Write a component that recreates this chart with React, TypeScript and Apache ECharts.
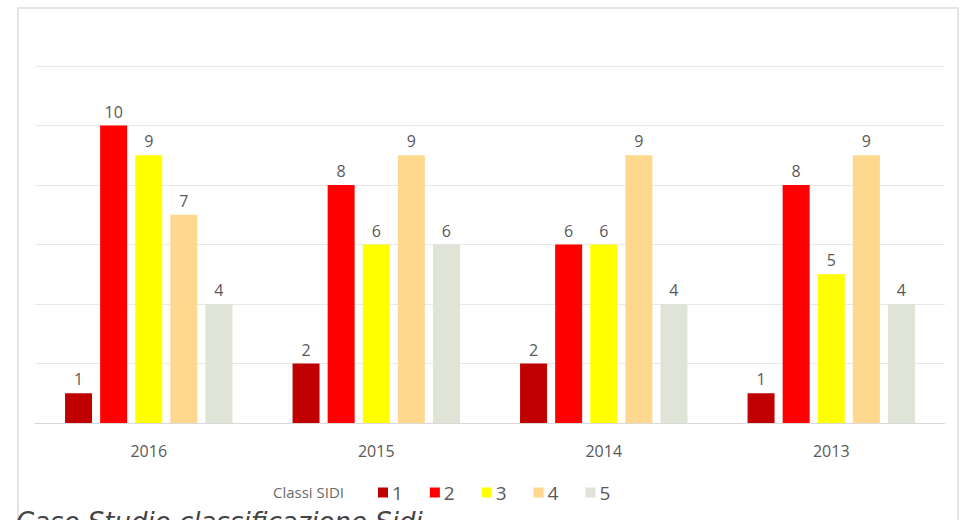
import React, { useEffect, useRef } from "react";
import * as echarts from "echarts";

const years = ["2016", "2015", "2014", "2013"];
const classNames = ["1", "2", "3", "4", "5"];
const class1 = [1, 2, 2, 1];
const class2 = [10, 8, 6, 8];
const class3 = [9, 6, 6, 5];
const class4 = [7, 9, 9, 9];
const class5 = [4, 6, 4, 4];
const classColors = ["#c00000", "#ff0000", "#ffff00", "#fdd88e", "#e0e4d6"];

export default function App() {
  const ref = useRef<HTMLDivElement>(null);

  useEffect(() => {
    if (!ref.current) return;
    const chart = echarts.init(ref.current, null, { renderer: "svg" });
    const values = [class1, class2, class3, class4, class5];
    chart.setOption({
      animation: false,
      backgroundColor: "#ffffff",
      grid: { left: 35, right: 18, top: 66, bottom: 97 },
      xAxis: {
        type: "category",
        data: years,
        axisLine: { lineStyle: { color: "#d9d9d9", width: 1 } },
        axisTick: { show: false },
        axisLabel: { color: "#595959", fontSize: 16, margin: 20, fontFamily: "Open Sans" },
      },
      yAxis: {
        type: "value",
        min: 0,
        max: 12,
        interval: 2,
        axisLabel: { show: false },
        axisLine: { show: false },
        axisTick: { show: false },
        splitLine: { lineStyle: { color: "#e8e8e8", width: 1 } },
      },
      legend: {
        data: classNames,
        left: 373,
        top: 478,
        itemWidth: 10,
        itemHeight: 10,
        itemGap: 27,
        icon: "rect",
        textStyle: { color: "#595959", fontSize: 19, fontFamily: "Open Sans", padding: [0, 0, 0, -1] },
      },
      graphic: [
        {
          type: "rect",
          shape: { x: 18, y: 8, width: 940, height: 560 },
          style: { fill: "none", stroke: "#dcdcdc", lineWidth: 1.5 },
          silent: true,
          z: -1,
        },
        {
          type: "text",
          x: 273,
          y: 492,
          style: {
            text: "Classi SIDI",
            fill: "#6b6b6b",
            fontSize: 15,
            fontFamily: "Open Sans",
            textVerticalAlign: "middle",
          },
        },
        {
          type: "text",
          x: 16,
          y: 509,
          style: {
            text: "Caso Studio classificazione Sidi",
            fill: "#444444",
            fontSize: 26,
            fontStyle: "italic",
            fontFamily: "DejaVu Sans",
          },
        },
      ],
      series: classNames.map((name, i) => ({
        name,
        type: "bar",
        data: values[i],
        barWidth: 27,
        barGap: "30%",
        itemStyle: { color: classColors[i] },
        label: {
          show: true,
          position: "top",
          distance: 6,
          color: "#595959",
          fontSize: 16,
          fontFamily: "Open Sans",
        },
      })),
    });
    return () => chart.dispose();
  }, []);

  return (
    <div
      ref={ref}
      style={{ position: "fixed", left: 0, top: 0, width: 963, height: 520, background: "#fff" }}
    />
  );
}
